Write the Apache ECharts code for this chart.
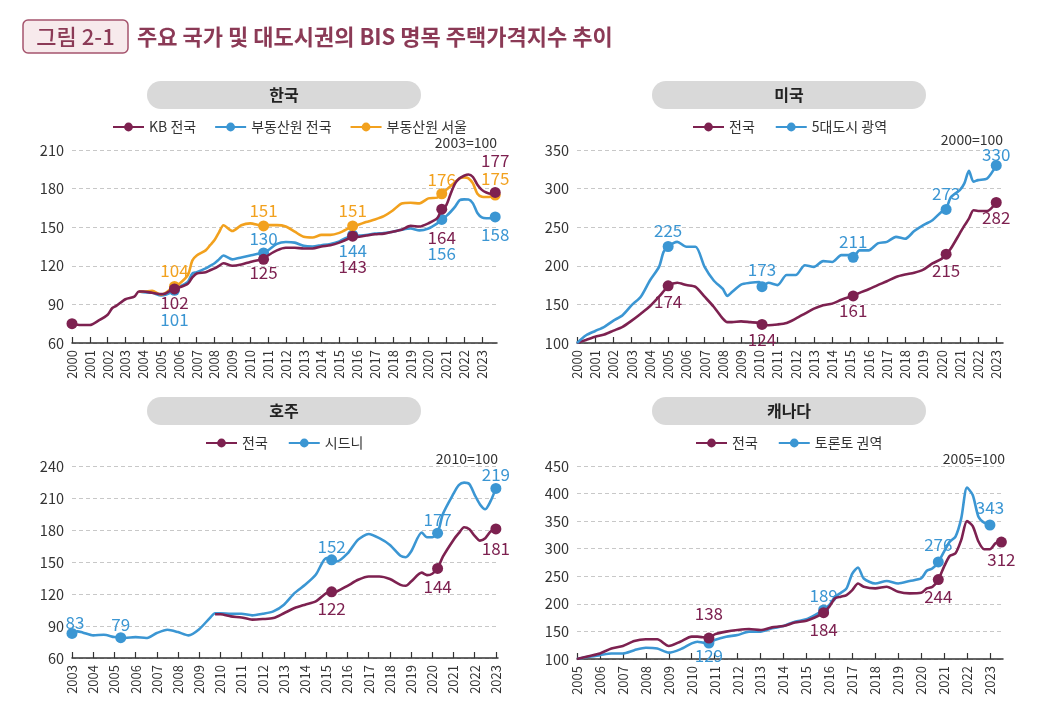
<!DOCTYPE html>
<html>
<head>
<meta charset="utf-8">
<script src="https://cdn.jsdelivr.net/npm/echarts@6/dist/echarts.min.js"></script>
<style>
  html, body { margin: 0; padding: 0; background: #fff; }
  #main { width: 1041px; height: 706px; }
</style>
</head>
<body>
<div id="main"></div>
<script>
const FONT = '"Noto Sans CJK KR", "Noto Sans", sans-serif';
const RED = '#7d2150';
const BLUE = '#3b96d3';
const ORANGE = '#f2a11e';

// ---- 한국 (2003=100)
const krYears = [2000, 2000.5, 2001, 2001.5, 2002, 2002.25, 2002.5, 2003, 2003.5, 2003.75,
  2004, 2004.5, 2005, 2005.25, 2005.5, 2005.75, 2006, 2006.5, 2006.75, 2007, 2007.5, 2007.75,
  2008, 2008.25, 2008.5, 2009, 2009.5, 2010, 2010.5, 2010.75, 2011, 2011.5, 2012, 2012.5,
  2013, 2013.5, 2014, 2014.5, 2015, 2015.5, 2015.75, 2016, 2016.5, 2017, 2017.5, 2018, 2018.5,
  2019, 2019.5, 2020, 2020.5, 2020.75, 2021, 2021.25, 2021.5, 2021.75, 2022, 2022.25, 2022.5,
  2022.75, 2023, 2023.25, 2023.5, 2023.75];
const krKB = [75, 74, 74, 77.5, 82, 87, 89, 94, 96, 100,
  100, 99, 98, 98.5, 100.5, 102, 103, 106, 111, 114, 115, 116.5,
  118, 120, 122, 120, 121, 123, 124.5, 125, 128, 132, 134, 134,
  133.5, 133.5, 135, 136, 138, 141, 143, 142.5, 143.5, 144.5, 145, 146.5, 148,
  151, 150.5, 153, 157, 164, 167, 176, 184, 188, 190, 191, 189,
  183, 179, 177, 176, 177];
const krRebAll = [null, null, null, null, null, null, null, null, null, 100,
  99.5, 99, 97, 97.5, 99, 101, 103.5, 107.5, 114, 115, 118, 120,
  122, 125, 128, 125, 126.5, 128, 129.5, 130, 132, 137, 138.5, 138,
  135.5, 135, 136, 137, 139, 142.5, 144, 143.5, 144, 145, 145.5, 146.5, 148,
  149, 147.5, 149, 153, 156, 158.6, 162, 166, 171, 171.6, 171.5, 168.5,
  161, 157.6, 157, 157, 158];
const krRebSeoul = [null, null, null, null, null, null, null, null, null, 100,
  100, 100.5, 97.6, 99, 101.5, 104, 105.7, 112.7, 124, 128, 132, 136,
  140, 146, 151.5, 147, 151.5, 153, 151.6, 151, 151.6, 151.6, 150.5, 146.5,
  142.5, 142, 144, 144, 145.6, 149, 151, 151.6, 154, 156, 158.6, 163, 168.5,
  169, 168.5, 172.4, 173, 176, 179, 182, 185, 188, 188.7, 188, 184,
  176, 173.7, 173.5, 173.7, 175];
const krTicks = [2000, 2001, 2002, 2003, 2004, 2005, 2006, 2007, 2008, 2009, 2010, 2011,
  2012, 2013, 2014, 2015, 2016, 2017, 2018, 2019, 2020, 2021, 2022, 2023];

// ---- 미국 (2000=100)
const usYears = [2000, 2000.5, 2001, 2001.5, 2002, 2002.5, 2003, 2003.5, 2004, 2004.5, 2004.75,
  2005, 2005.5, 2006, 2006.5, 2007, 2007.5, 2008, 2008.25, 2008.5, 2009, 2009.5, 2010, 2010.15,
  2010.5, 2011, 2011.5, 2012, 2012.5, 2013, 2013.5, 2014, 2014.5, 2015, 2015.15, 2015.5, 2016,
  2016.5, 2017, 2017.5, 2018, 2018.5, 2019, 2019.5, 2020, 2020.25, 2020.5, 2021, 2021.25,
  2021.5, 2021.75, 2022, 2022.5, 2023];
const usNation = [100, 104, 108, 111, 116, 121, 129, 138, 147.6, 160, 167,
  174, 178, 175, 172.7, 160, 147, 131.6, 127, 127, 128, 127, 126, 124,
  123, 124, 126, 131.6, 138, 144.5, 149, 151, 156, 160, 161, 165, 169.6,
  175, 180, 185.6, 188.7, 191, 195, 203, 209, 215, 222, 242, 252,
  261, 272, 271, 271, 282];
const usMetro5 = [100, 110, 115.6, 121, 129, 136, 149, 160, 181, 198.6, 218,
  225, 231, 224.6, 224.6, 198.6, 181, 170, 161, 166, 175.7, 178, 179, 173,
  178, 175, 188, 188, 200.8, 198.6, 206, 205, 213.8, 213.8, 211, 220, 220,
  229, 231, 237.5, 235, 245, 252.7, 259, 270, 273, 288.6, 298, 306.7,
  323, 309, 311, 313, 330];
const usTicks = krTicks;

// ---- 호주 (2010=100)
const auYears = [2003, 2003.25, 2003.5, 2004, 2004.5, 2005, 2005.3, 2005.5, 2006, 2006.5,
  2007, 2007.5, 2008, 2008.5, 2009, 2009.5, 2009.75, 2010, 2010.5, 2011, 2011.5, 2012, 2012.5,
  2013, 2013.5, 2014, 2014.5, 2015, 2015.25, 2015.5, 2016, 2016.5, 2017, 2017.5, 2018, 2018.5,
  2018.75, 2019, 2019.5, 2019.75, 2020, 2020.25, 2020.5, 2021, 2021.25, 2021.5, 2021.75, 2022,
  2022.25, 2022.5, 2022.75, 2023];
const auNation = [null, null, null, null, null, null, null, null, null, null,
  null, null, null, null, null, null, 101, 101, 99, 98, 96, 96.5, 97.4,
  102, 106.8, 110, 113, 120.8, 122, 122.4, 127.7, 133.3, 136.4, 136.4, 134, 128.6,
  127.7, 131.7, 140, 137.7, 139, 144, 155, 170.7, 177, 182.6, 180.7, 174.5,
  170, 172.3, 178.5, 181];
const auSydney = [83, 85, 84, 81.2, 81.8, 79.6, 79, 78.7, 79.6, 78.7,
  83.4, 86.5, 84.3, 81.2, 87, 97.4, 102, 102, 101.5, 101.5, 100, 101.5, 103.7,
  110, 120.8, 128.6, 138, 153.6, 152, 150.5, 158, 171, 176.3, 172.3, 166, 155.8,
  154.5, 159.8, 177.6, 173.2, 173.2, 177, 195, 214, 222, 224.4, 223, 213,
  204, 199.5, 207, 219];
const auTicks = [2003, 2004, 2005, 2006, 2007, 2008, 2009, 2010, 2011, 2012, 2013, 2014,
  2015, 2016, 2017, 2018, 2019, 2020, 2021, 2022, 2023];

// ---- 캐나다 (2005=100)
const caYears = [2005, 2005.5, 2006, 2006.5, 2007, 2007.5, 2008, 2008.5, 2009, 2009.5,
  2010, 2010.25, 2010.5, 2010.75, 2011, 2011.5, 2012, 2012.5, 2013, 2013.5, 2014, 2014.5,
  2015, 2015.5, 2015.75, 2016, 2016.25, 2016.5, 2016.75, 2017, 2017.25, 2017.5, 2018, 2018.5,
  2019, 2019.5, 2020, 2020.25, 2020.5, 2020.75, 2021, 2021.25, 2021.5, 2021.75, 2022, 2022.25,
  2022.5, 2022.75, 2023, 2023.25, 2023.5];
const caNation = [100, 105, 110, 119, 123.6, 132.6, 135.7, 135.7, 123.6, 131.4,
  140.5, 140.5, 139.3, 138, 144.7, 149.6, 152.6, 154.4, 152.6, 157.4, 159.9, 166,
  169.5, 178, 184, 195, 210, 213, 216, 225, 237, 231, 228, 231,
  222, 219, 220, 228, 231, 244, 267.5, 287, 291.7, 316, 350, 341,
  313, 299, 299, 310, 312];
const caToronto = [100, 104, 107, 110, 110, 116, 120.5, 119, 111.5, 117.5,
  128.4, 131.4, 129.6, 129, 134.5, 140.5, 143.5, 149.6, 149.6, 155.6, 159.9, 167.7,
  172, 182.8, 189, 198, 213, 220, 228, 255, 266, 246, 237, 241.5,
  237, 241.5, 246, 260, 264.5, 276, 294.7, 312.8, 322, 355, 410.8, 397.5,
  358, 347, 343, null, null];
const caTicks = [2005, 2006, 2007, 2008, 2009, 2010, 2011, 2012, 2013, 2014, 2015, 2016,
  2017, 2018, 2019, 2020, 2021, 2022, 2023];

// 표시 점과 라벨 위치 [x, dy(px), dx(px)]
const krKBMarks = [[2000, null], [2005.75, 14], [2010.75, 13], [2015.75, 30], [2020.75, 28], [2023.75, -32]];
const krAllMarks = [[2005.75, 29], [2010.75, -14], [2015.75, 16], [2020.75, 34], [2023.75, 18]];
const krSeoulMarks = [[2005.75, -16], [2010.75, -15], [2015.75, -15], [2020.75, -14], [2023.75, -16]];
const usNationMarks = [[2005, 16], [2010.15, 15], [2015.15, 15], [2020.25, 16], [2023, 15]];
const usMetroMarks = [[2005, -16], [2010.15, -17], [2015.15, -16], [2020.25, -16], [2023, -11]];
const auNationMarks = [[2015.25, 17], [2020.25, 18], [2023, 20]];
const auSydneyMarks = [[2003, -11, 3], [2005.3, -13], [2015.25, -13], [2020.25, -14], [2023, -14]];
const caNationMarks = [[2010.75, -24], [2015.75, 17], [2020.75, 17], [2023.5, 17]];
const caTorontoMarks = [[2010.75, 13], [2015.75, -14], [2020.75, -17], [2023, -17]];

function buildData(xs, ys, marks, color) {
  const res = [];
  xs.forEach((x, i) => {
    if (ys[i] == null) return;
    const m = marks.find(mk => mk[0] === x);
    if (m) {
      res.push({
        value: [x, ys[i]],
        symbol: 'circle',
        symbolSize: 11,
        label: {
          show: m[1] != null,
          position: 'inside',
          offset: [m[2] || 0, m[1] || 0],
          formatter: p => Math.round(p.value[1]),
          color: color,
          fontSize: 17,
          fontFamily: FONT
        }
      });
    } else {
      res.push({ value: [x, ys[i]], symbol: 'none' });
    }
  });
  return res;
}

const grids = [], xAxes = [], yAxes = [], series = [], legends = [], graphics = [];

function panel(p) {
  const i = grids.length;
  grids.push(Object.assign({ containLabel: false }, p.grid));
  xAxes.push({
    type: 'value', gridIndex: i, min: p.xmin, max: p.xmax, interval: 1,
    axisLine: { show: true, lineStyle: { color: '#333', width: 1.5 } },
    axisTick: { show: true, inside: true, length: 6, customValues: p.ticks, lineStyle: { color: '#333', width: 1.2 } },
    axisLabel: { customValues: p.ticks, rotate: 90, fontSize: 13, color: '#333', margin: 7, fontFamily: FONT,
      formatter: v => String(v) },
    splitLine: { show: false }
  });
  yAxes.push({
    type: 'value', gridIndex: i, min: p.ymin, max: p.ymax, interval: p.yint,
    axisLine: { show: false }, axisTick: { show: false },
    axisLabel: { fontSize: 14.5, color: '#333', margin: 8, fontFamily: FONT },
    splitLine: { show: true, lineStyle: { color: '#c8c8c8', type: [4, 3], width: 1 } }
  });
  p.lines.forEach(l => {
    series.push({
      name: l.name, type: 'line', xAxisIndex: i, yAxisIndex: i,
      data: buildData(p.years, l.values, l.marks, l.color),
      symbol: 'circle', symbolSize: 11, showSymbol: true, showAllSymbol: true,
      smooth: 0.25, color: l.color,
      lineStyle: { width: 2.6, color: l.color },
      itemStyle: { color: l.color },
      emphasis: { disabled: true },
      z: l.z || 2
    });
  });
  legends.push({
    data: p.lines.map(l => l.name),
    left: p.legendLeft, top: p.grid.top - 35,
    itemWidth: 31, itemHeight: 11, itemGap: p.legendGap || 20,
    textStyle: { fontSize: 14, color: '#333', fontFamily: FONT },
    selectedMode: false
  });
  const pillX = p.grid.left + 75, pillY = p.grid.top - 69;
  graphics.push({
    type: 'rect', shape: { x: pillX, y: pillY, width: 274, height: 28, r: 14 },
    style: { fill: '#d9d9d9' }
  });
  graphics.push({
    type: 'text', x: pillX + 137, y: pillY + 14,
    style: { text: p.title, fill: '#222', font: 'bold 16px ' + FONT, align: 'center', verticalAlign: 'middle' }
  });
  graphics.push({
    type: 'text', x: p.grid.left + p.grid.width + (p.baseDx || 0), y: p.grid.top - 7 + (p.baseDy || 0),
    style: { text: p.base, fill: '#333', font: '14px ' + FONT, align: 'right', verticalAlign: 'middle' }
  });
}

panel({
  title: '한국', base: '2003=100',
  grid: { left: 72, top: 150, width: 425, height: 193 },
  xmin: 2000, xmax: 2023.85, ticks: krTicks, ymin: 60, ymax: 210, yint: 30,
  years: krYears, legendLeft: 107, legendGap: 18,
  lines: [
    { name: 'KB 전국', values: krKB, marks: krKBMarks, color: RED, z: 4 },
    { name: '부동산원 전국', values: krRebAll, marks: krAllMarks, color: BLUE, z: 2 },
    { name: '부동산원 서울', values: krRebSeoul, marks: krSeoulMarks, color: ORANGE, z: 3 }
  ]
});
panel({
  title: '미국', base: '2000=100', baseDy: -3,
  grid: { left: 577, top: 150, width: 426, height: 193 },
  xmin: 2000, xmax: 2023.37, ticks: usTicks, ymin: 100, ymax: 350, yint: 50,
  years: usYears, legendLeft: 687, legendGap: 20,
  lines: [
    { name: '전국', values: usNation, marks: usNationMarks, color: RED },
    { name: '5대도시 광역', values: usMetro5, marks: usMetroMarks, color: BLUE }
  ]
});
panel({
  title: '호주', base: '2010=100',
  grid: { left: 72, top: 466, width: 426, height: 192 },
  xmin: 2003, xmax: 2023.1, ticks: auTicks, ymin: 60, ymax: 240, yint: 30,
  years: auYears, legendLeft: 200, legendGap: 20,
  lines: [
    { name: '전국', values: auNation, marks: auNationMarks, color: RED, z: 3 },
    { name: '시드니', values: auSydney, marks: auSydneyMarks, color: BLUE }
  ]
});
panel({
  title: '캐나다', base: '2005=100', baseDx: 2,
  grid: { left: 577, top: 466, width: 426, height: 193 },
  xmin: 2005, xmax: 2023.57, ticks: caTicks, ymin: 100, ymax: 450, yint: 50,
  years: caYears, legendLeft: 690, legendGap: 20,
  lines: [
    { name: '전국', values: caNation, marks: caNationMarks, color: RED, z: 3 },
    { name: '토론토 권역', values: caToronto, marks: caTorontoMarks, color: BLUE }
  ]
});

// 상단 제목
graphics.push({
  type: 'rect', shape: { x: 23, y: 20, width: 105, height: 33, r: 5 },
  style: { fill: '#f7eaec', stroke: '#a5546d', lineWidth: 1.5 }
});
graphics.push({
  type: 'text', x: 75.5, y: 37,
  style: { text: '그림 2-1', fill: '#8b3a56', font: '500 22px ' + FONT, align: 'center', verticalAlign: 'middle' }
});
graphics.push({
  type: 'text', x: 137, y: 37,
  style: { text: '주요 국가 및 대도시권의 BIS 명목 주택가격지수 추이', fill: '#8b3a56', font: 'bold 22px ' + FONT,
    align: 'left', verticalAlign: 'middle' }
});

const chart = echarts.init(document.getElementById('main'));
chart.setOption({
  animation: false,
  backgroundColor: '#fff',
  grid: grids,
  xAxis: xAxes,
  yAxis: yAxes,
  legend: legends,
  series: series,
  graphic: graphics
});
</script>
</body>
</html>
